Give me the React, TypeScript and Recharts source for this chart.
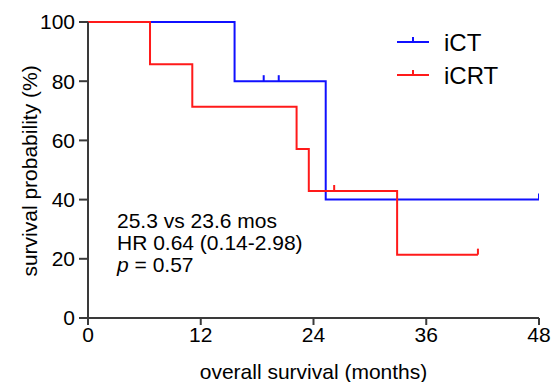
import React from "react";
import { LineChart, Line, XAxis, YAxis, Label } from "recharts";

const ictTime = [0, 15.6, 18.7, 20.3, 25.3, 48];
const ictSurv = [100, 80, 80, 80, 40, 40];
const ictCens = [false, false, true, true, false, true];

const icrtTime = [0, 6.6, 11.1, 22.2, 23.5, 26.2, 32.9, 41.5];
const icrtSurv = [100, 85.7, 71.4, 57.1, 42.9, 42.9, 21.4, 21.4];
const icrtCens = [false, false, false, false, false, true, false, true];

const xTicks = [0, 12, 24, 36, 48];
const yTicks = [0, 20, 40, 60, 80, 100];

const seriesNames = ["iCT", "iCRT"];
const annotationLines = ["25.3 vs 23.6 mos", "HR 0.64 (0.14-2.98)"];
const pValue = "0.57";

const BLUE = "#1010ff";
const RED = "#ff1a1a";
const AXIS = "#3a3a3a";
const FONT = "'Liberation Sans', Arial, sans-serif";

const ictData = ictTime.map((t, i) => ({ t, s: ictSurv[i], c: ictCens[i] }));
const icrtData = icrtTime.map((t, i) => ({ t, s: icrtSurv[i], c: icrtCens[i] }));

const makeDot = (color: string) => (props: any) => {
  const { cx, cy, payload, index } = props;
  if (!payload || !payload.c || cx == null || cy == null) {
    return <g key={`d-${color}-${index}`} />;
  }
  return (
    <line
      key={`d-${color}-${index}`}
      x1={cx}
      y1={cy}
      x2={cx}
      y2={cy - 6}
      stroke={color}
      strokeWidth={2}
    />
  );
};

const legendColors = [BLUE, RED];

const LegendBox = () => (
  <svg width={160} height={70} style={{ position: "absolute", left: 395, top: 25, overflow: "visible" }}>
    {seriesNames.map((name, i) => {
      const y = 17 + i * 33;
      return (
        <g key={name}>
          <line x1={2} y1={y} x2={34} y2={y} stroke={legendColors[i]} strokeWidth={2} />
          <line x1={18} y1={y} x2={18} y2={y - 5} stroke={legendColors[i]} strokeWidth={2} />
          <text x={49} y={y} dy="0.36em" fontSize={24} fontFamily={FONT} fill="#000">
            {name}
          </text>
        </g>
      );
    })}
  </svg>
);

export default function App() {
  return (
    <div style={{ position: "absolute", left: 0, top: 0, width: 557, height: 382, background: "#fff" }}>
      <LineChart
        width={557}
        height={382}
        margin={{ top: 22, right: 18, bottom: 0, left: 0 }}
        style={{ fontFamily: FONT }}
      >
        <XAxis
          type="number"
          dataKey="t"
          domain={[0, 48]}
          ticks={xTicks}
          allowDataOverflow
          height={64}
          stroke={AXIS}
          strokeWidth={2}
          tickSize={7}
          tickMargin={2}
          tick={{ fill: "#000", fontSize: 21, fontFamily: FONT }}
        >
          <Label
            value="overall survival (months)"
            position="insideBottom"
            offset={3}
            style={{ fill: "#000", fontSize: 21, fontFamily: FONT }}
          />
        </XAxis>
        <YAxis
          type="number"
          dataKey="s"
          domain={[0, 100]}
          ticks={yTicks}
          width={88}
          stroke={AXIS}
          strokeWidth={2}
          tickSize={9}
          tickMargin={4}
          tick={{ fill: "#000", fontSize: 21, fontFamily: FONT }}
        >
          <Label
            content={() => (
              <text
                x={29}
                y={171}
                transform="rotate(-90 29 171)"
                textAnchor="middle"
                dominantBaseline="central"
                fontSize={21}
                fontFamily={FONT}
                fill="#000"
              >
                survival probability (%)
              </text>
            )}
          />
        </YAxis>
        <Line
          data={ictData}
          dataKey="s"
          type="stepAfter"
          stroke={BLUE}
          strokeWidth={2}
          dot={makeDot(BLUE)}
          activeDot={false}
          isAnimationActive={false}
          name="iCT"
        />
        <Line
          data={icrtData}
          dataKey="s"
          type="stepAfter"
          stroke={RED}
          strokeWidth={2}
          dot={makeDot(RED)}
          activeDot={false}
          isAnimationActive={false}
          name="iCRT"
        />
      </LineChart>
      <LegendBox />
      <div
        style={{
          position: "absolute",
          left: 117,
          top: 210,
          fontFamily: FONT,
          fontSize: 21,
          lineHeight: "22px",
          color: "#000",
          whiteSpace: "nowrap",
        }}
      >
        {annotationLines.map((l) => (
          <div key={l}>{l}</div>
        ))}
        <div>
          <i>p</i> = {pValue}
        </div>
      </div>
    </div>
  );
}
